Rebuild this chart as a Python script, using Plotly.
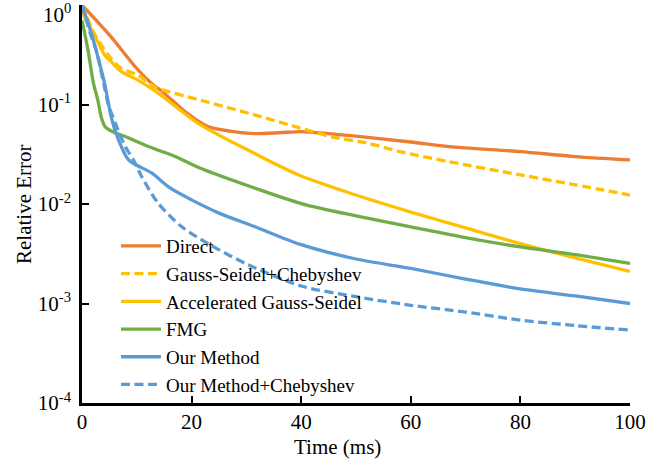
import plotly.graph_objects as go

# ---- data (time in ms, relative error) ----
direct_t = [0, 5, 10, 12.7, 15, 18.8, 23, 27, 31.6, 36, 40, 45, 50, 60, 67, 80, 90, 100]
direct_v = [1.0, 0.50, 0.23, 0.163, 0.13, 0.085, 0.060, 0.054, 0.051, 0.052, 0.0535, 0.051, 0.048, 0.042, 0.0377, 0.0336, 0.030, 0.0277]

gsc_t = [0, 2.4, 5.3, 7.2, 10.2, 13.3, 21.5, 31, 39.8, 45.8, 52, 58, 67, 80, 90, 100]
gsc_v = [1.0, 0.50, 0.29, 0.23, 0.197, 0.15, 0.111, 0.080, 0.058, 0.047, 0.041, 0.0336, 0.0266, 0.0196, 0.0156, 0.0123]

ags_t = [0, 2.4, 4.2, 5.3, 7.2, 10.2, 13.9, 21.5, 31.6, 40, 50, 60, 70, 80, 90, 100]
ags_v = [0.85, 0.48, 0.31, 0.27, 0.214, 0.176, 0.13, 0.063, 0.032, 0.0191, 0.0123, 0.0083, 0.00575, 0.0040, 0.00287, 0.0021]

fmg_t = [0, 1.1, 2.1, 2.9, 3.5, 4.2, 6, 7.8, 12, 17, 21.5, 31.6, 40, 50, 60, 70, 80, 90, 100]
fmg_v = [0.7, 0.35, 0.163, 0.11, 0.075, 0.060, 0.052, 0.048, 0.038, 0.030, 0.023, 0.0144, 0.0101, 0.0076, 0.0059, 0.0046, 0.0037, 0.0031, 0.00253]

our_t = [0, 1.7, 2.4, 4.1, 5.4, 6.6, 8.5, 10, 12.7, 16, 20, 25, 31.6, 40, 50, 60, 70, 80, 90, 100]
our_v = [1.0, 0.52, 0.38, 0.165, 0.072, 0.045, 0.0277, 0.0245, 0.0205, 0.0146, 0.011, 0.0081, 0.0059, 0.0039, 0.0028, 0.00225, 0.00176, 0.0014, 0.00119, 0.001]

ourc_t = [0, 1.5, 2.6, 3.3, 4.1, 4.8, 6.6, 8, 9.4, 10.9, 13.9, 18.2, 23, 30, 40, 50, 60, 70, 80, 90, 100]
ourc_v = [1.0, 0.52, 0.35, 0.24, 0.15, 0.10, 0.055, 0.037, 0.0277, 0.0188, 0.0102, 0.0059, 0.0040, 0.0025, 0.0015, 0.00117, 0.00096, 0.00082, 0.00068, 0.0006, 0.00054]

names = ["Direct", "Gauss-Seidel+Chebyshev", "Accelerated Gauss-Seidel", "FMG",
         "Our Method", "Our Method+Chebyshev"]
colors = ["#ED7D31", "#FFC000", "#FFC000", "#70AD47", "#5B9BD5", "#5B9BD5"]
dashes = ["solid", "9px,4.5px", "solid", "solid", "solid", "9px,4.5px"]
series = [(direct_t, direct_v), (gsc_t, gsc_v), (ags_t, ags_v), (fmg_t, fmg_v),
          (our_t, our_v), (ourc_t, ourc_v)]

ytick_vals = [1e-4, 1e-3, 1e-2, 1e-1, 1]
ytick_text = ["10<sup>-4</sup>", "10<sup>-3</sup>", "10<sup>-2</sup>", "10<sup>-1</sup>", ""]
top_label = "10<sup>0</sup>"
xtick_vals = [0, 20, 40, 60, 80, 100]
x_title = "Time (ms)"
y_title = "Relative Error"

FONT = "Liberation Serif, Times New Roman, serif"

fig = go.Figure()
for i, (name, (t, v)) in enumerate(zip(names, series)):
    fig.add_trace(go.Scatter(
        x=t, y=v, name=name, mode="lines",
        line=dict(color=colors[i], width=3.3, dash=dashes[i], shape="spline", smoothing=0.8),
        legendgroup=name,
    ))

fig.update_layout(
    width=668, height=461,
    margin=dict(l=82, r=38, t=5, b=58),
    paper_bgcolor="white", plot_bgcolor="white",
    font=dict(family=FONT, size=21, color="black"),
    showlegend=True,
    legend=dict(x=0.062, y=0.442, xanchor="left", yanchor="top",
                bgcolor="rgba(0,0,0,0)", borderwidth=0,
                font=dict(family=FONT, size=19, color="black"),
                tracegroupgap=0, itemwidth=40),
    xaxis=dict(range=[0, 100], tickvals=xtick_vals, ticks="inside", ticklen=7, tickwidth=2,
               tickcolor="black", showline=True, linecolor="black", linewidth=2.5,
               showgrid=False, zeroline=False, mirror=False, automargin=False,
               ticklabelstandoff=-2,
               tickfont=dict(family=FONT, size=21)),
    yaxis=dict(type="log", range=[-4, 0], tickvals=ytick_vals, ticktext=ytick_text,
               ticks="inside", ticklen=7, tickwidth=2, tickcolor="black",
               showline=True, linecolor="black", linewidth=2.5,
               showgrid=False, zeroline=False, automargin=False,
               ticklabelstandoff=4,
               tickfont=dict(family=FONT, size=21)),
    annotations=[
        dict(text=top_label, xref="paper", yref="y", x=0, y=0, xanchor="right", yanchor="top",
             xshift=-9, yshift=7, showarrow=False, font=dict(family=FONT, size=21)),
        dict(text=x_title, xref="paper", yref="paper", x=0.467, y=0, xanchor="center",
             yanchor="middle", yshift=-44, showarrow=False, font=dict(family=FONT, size=21)),
        dict(text=y_title, xref="paper", yref="paper", x=0, y=0.5, xanchor="center",
             yanchor="middle", xshift=-58, textangle=-90, showarrow=False,
             font=dict(family=FONT, size=21)),
    ],
)

fig.write_html("out.html", config={"displayModeBar": False},
               post_script="document.body.style.margin='0px';document.body.style.padding='0px';")
